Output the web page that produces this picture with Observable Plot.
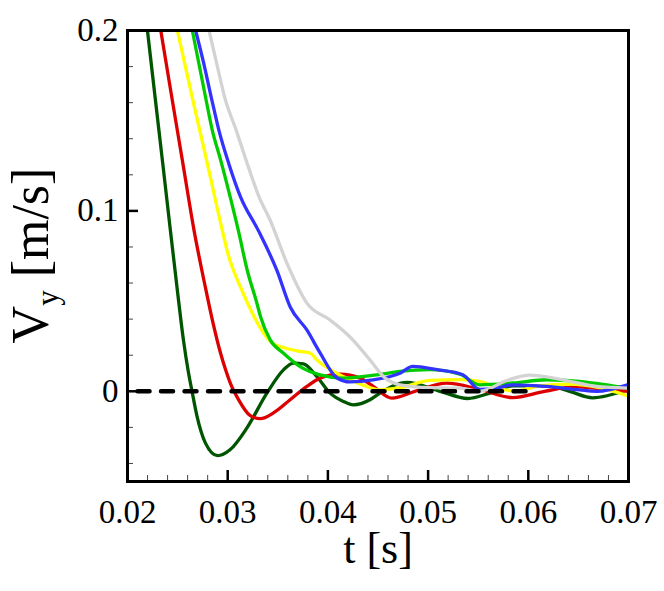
<!DOCTYPE html>
<html><head><meta charset="utf-8">
<script src="https://cdn.jsdelivr.net/npm/d3@7"></script>
<script src="https://cdn.jsdelivr.net/npm/@observablehq/plot@0.6"></script>
<style>body{margin:0;background:#fff} svg{display:block}</style>
</head><body><div id="chart"></div>
<script>
// ---- data ----
const tDarkGreen = [0.02199,0.02276,0.02352,0.02428,0.02494,0.02558,0.02607,0.02644,0.02694,0.02777,0.02899,0.03026,0.03192,0.03391,0.03557,0.03656,0.03756,0.03889,0.04022,0.04154,0.04254,0.0442,0.0452,0.04789,0.05118,0.05396,0.05616,0.05845,0.06183,0.06412,0.06641,0.0699];
const vDarkGreen = [0.2,0.1627,0.1262,0.0892,0.0577,0.0285,0.0108,0,-0.0139,-0.0286,-0.0357,-0.0323,-0.0203,-0.001,0.0119,0.0156,0.0152,0.0082,-0.001,-0.0056,-0.0075,-0.0047,-0.001,0.005,0,-0.004,-0.001,0.003,0.003,0,-0.0036,0.001];

const tRed = [0.02332,0.02443,0.02553,0.02664,0.02777,0.02847,0.02929,0.02979,0.03026,0.03109,0.03225,0.03325,0.03457,0.03623,0.0379,0.03922,0.04121,0.04321,0.04453,0.04639,0.04868,0.05187,0.05516,0.05844,0.06163,0.06462,0.06711,0.0699];
const vRed = [0.2,0.1627,0.1262,0.0892,0.0577,0.0395,0.0211,0.0119,0.0045,-0.0047,-0.0135,-0.0152,-0.012,-0.0047,0.0027,0.0073,0.0095,0.0073,0.0027,-0.0038,0,0.0045,0.001,-0.0035,0,0.0024,0.0015,0];

const tYellow = [0.02498,0.02647,0.02797,0.02946,0.03001,0.03128,0.03245,0.03345,0.03444,0.03574,0.03723,0.03826,0.03889,0.04055,0.04221,0.04387,0.0452,0.04719,0.05018,0.05316,0.05516,0.05715,0.05865,0.06113,0.06412,0.06711,0.0699];
const vYellow = [0.2,0.1627,0.1262,0.0892,0.0765,0.0577,0.0434,0.0334,0.0268,0.024,0.0221,0.0211,0.0174,0.011,0.0064,0.0027,0.0008,0.002,0.006,0.0065,0.0055,0.0015,0.0002,0.003,0.004,0.002,-0.0025];

const tGreen = [0.02647,0.0278,0.02847,0.02931,0.03026,0.03106,0.03195,0.03292,0.03328,0.03424,0.03557,0.03723,0.03922,0.04154,0.04487,0.04719,0.05018,0.05316,0.05516,0.05844,0.06183,0.06512,0.06841,0.0699];
const vGreen = [0.2,0.1627,0.1445,0.1279,0.1075,0.0892,0.0671,0.0487,0.0413,0.0285,0.0211,0.0137,0.0091,0.0073,0.0091,0.011,0.012,0.0095,0.0036,0.0046,0.0064,0.0055,0.003,0.0018];

const tBlue = [0.0268,0.02762,0.02837,0.02913,0.03011,0.0313,0.03305,0.03491,0.03624,0.0379,0.03922,0.04089,0.04221,0.0445,0.04719,0.04848,0.05087,0.05346,0.05516,0.05685,0.05844,0.06183,0.06512,0.06681,0.0699];
const vBlue = [0.2,0.1815,0.1627,0.1445,0.1262,0.1075,0.0892,0.067,0.0467,0.034,0.0213,0.0075,0.0052,0.0063,0.01,0.0138,0.012,0.0092,0.001,0.0018,0.0036,0.0027,0.0008,0,0.0036];

const tGray = [0.02814,0.02891,0.02971,0.03086,0.03195,0.03315,0.03424,0.03591,0.0379,0.04022,0.04221,0.0442,0.04553,0.04719,0.05018,0.05316,0.05516,0.05785,0.06014,0.06342,0.06681,0.0699];
const vGray = [0.2,0.1815,0.1627,0.1445,0.1262,0.1075,0.0948,0.071,0.0489,0.0395,0.0301,0.0174,0.0082,0.0036,0.002,0.0018,0,0.006,0.009,0.0064,0.0027,0.0018];

const tReference = [0.021, 0.060];
const vReference = [0, 0];

const seriesNames  = ["darkgreen", "red", "yellow", "green", "blue", "gray"];
const seriesColors = ["#005500", "#dd0000", "#ffff00", "#00cc00", "#3333ff", "#d3d3d3"];
const seriesT = [tDarkGreen, tRed, tYellow, tGreen, tBlue, tGray];
const seriesV = [vDarkGreen, vRed, vYellow, vGreen, vBlue, vGray];

const xMajorTicks = [0.02, 0.03, 0.04, 0.05, 0.06, 0.07];
const xMinorTicks = [0.022,0.024,0.026,0.028,0.032,0.034,0.036,0.038,0.042,0.044,0.046,0.048,0.052,0.054,0.056,0.058,0.062,0.064,0.066,0.068];
const yMajorTicks = [0, 0.1, 0.2];
const yMinorTicks = [-0.04,-0.02,0.02,0.04,0.06,0.08,0.12,0.14,0.16,0.18];
const xTickLabels = ["0.02","0.03","0.04","0.05","0.06","0.07"];
const yTickLabels = ["0","0.1","0.2"];

const xLabel = "t [s]";
const yLabelMain = "V", yLabelSub = "y", yLabelUnit = "[m/s]";

// ---- layout ----
const W = 664, H = 591, mL = 127, mR = 36, mT = 30, mB = 110;
const plotW = W - mL - mR, plotH = H - mT - mB;
const fontFamily = "'Liberation Serif', 'Times New Roman', Times, serif";

const rows = [];
seriesNames.forEach((name, i) => {
  seriesT[i].forEach((t, j) => rows.push({series: name, t, v: seriesV[i][j]}));
});
const refRows = tReference.map((t, j) => ({t, v: vReference[j]}));

const lineMarks = seriesNames.map((name, i) =>
  Plot.line(rows.filter(d => d.series === name), {
    x: "t", y: "v", stroke: seriesColors[i], strokeWidth: 3.3,
    curve: "monotone-x", clip: true
  })
);

const chart = Plot.plot({
  width: W, height: H,
  marginLeft: mL, marginRight: mR, marginTop: mT, marginBottom: mB,
  style: {fontFamily, background: "white", color: "black"},
  x: {domain: [0.02, 0.07]},
  y: {domain: [-0.05, 0.2]},
  marks: [
    ...lineMarks,
    Plot.line(refRows, {x: "t", y: "v", stroke: "black", strokeWidth: 4.5, strokeDasharray: "12,11.5"}),
    Plot.tickX(xMinorTicks, {stroke: "#444", strokeWidth: 1, insetTop: plotH - 6}),
    Plot.tickX(xMajorTicks, {stroke: "black", strokeWidth: 2.5, insetTop: plotH - 11}),
    Plot.tickY(yMinorTicks, {stroke: "#444", strokeWidth: 1, insetRight: plotW - 6}),
    Plot.tickY(yMajorTicks, {stroke: "black", strokeWidth: 2.5, insetRight: plotW - 11}),
    Plot.frame({stroke: "black", strokeWidth: 3}),
    Plot.axisX({ticks: xMajorTicks, tickSize: 0, tickPadding: 18, fontSize: 33,
      tickFormat: d => xTickLabels[xMajorTicks.indexOf(d)], label: null}),
    Plot.axisY({ticks: yMajorTicks, tickSize: 0, tickPadding: 9, fontSize: 33,
      tickFormat: d => yTickLabels[yMajorTicks.indexOf(d)], label: null}),
    Plot.text([xLabel], {text: d => d, frameAnchor: "bottom", lineAnchor: "top", dy: 50, fontSize: 44, fill: "black"})
  ]
});

// y-axis title with subscript
const yl = d3.select(chart).append("text")
  .attr("transform", `translate(48, ${mT + plotH / 2}) rotate(-90)`)
  .attr("text-anchor", "middle")
  .attr("font-family", fontFamily)
  .attr("font-size", 52)
  .attr("fill", "black");
yl.append("tspan").text(yLabelMain);
yl.append("tspan").attr("font-size", 31).attr("dy", 10).text(yLabelSub);
yl.append("tspan").attr("dy", -10).text("\u00a0" + yLabelUnit);

document.getElementById("chart").appendChild(chart);
</script>
</body></html>
